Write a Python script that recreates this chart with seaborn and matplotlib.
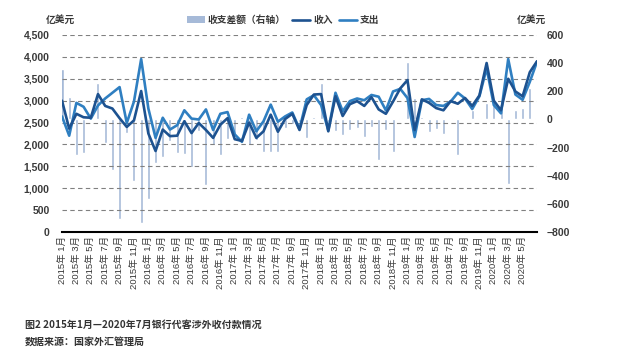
import numpy as np
import pandas as pd
import seaborn as sns
import matplotlib.pyplot as plt
from matplotlib.patches import Patch
from matplotlib.lines import Line2D
from matplotlib.ticker import FuncFormatter
from matplotlib.transforms import ScaledTranslation

# 2015年1月 - 2020年7月，亿美元
income = [3000, 2360, 2700, 2620, 2610, 3150, 2880, 2820, 2600, 2400, 2550, 3220,
          2250, 1850, 2340, 2190, 2200, 2530, 2260, 2490, 2330, 2150, 2450, 2600,
          2120, 2080, 2500, 2150, 2300, 2680, 2290, 2580, 2700, 2330, 2900, 3140,
          3150, 2300, 3100, 2650, 2920, 2990, 2880, 3080, 2800, 2700, 2980, 3280,
          3470, 2330, 3030, 2950, 2830, 2780, 2990, 2930, 3060, 2880, 3120, 3860,
          3000, 2780, 3500, 3210, 3100, 3650, 3900]
expense = [2640, 2200, 2950, 2860, 2590, 2890, 3050, 3180, 3310, 2490, 2980, 3950,
           2820, 2150, 2610, 2340, 2440, 2780, 2590, 2570, 2800, 2330, 2700, 2740,
           2230, 2060, 2680, 2300, 2530, 2910, 2520, 2640, 2730, 2350, 3030, 3125,
           2900, 2320, 3180, 2760, 2990, 3050, 3010, 3130, 3090, 2780, 3210, 3270,
           3060, 2170, 3010, 3040, 2900, 2880, 2980, 3180, 3050, 2810, 3100, 3740,
           2900, 2710, 3950, 3140, 3020, 3430, 3890]
balance = [358, 160, -253, -237, 20, 259, -170, -360, -708, -97, -435, -734,
           -568, -308, -267, -150, -242, -247, -336, -80, -466, -180, -253, -140,
           -110, 20, -182, -146, -230, -230, -230, -60, -30, -20, -134, 15,
           257, -20, -80, -110, -75, -63, -127, -52, -289, -75, -230, 10,
           410, 150, 20, -88, -71, -100, 10, -253, 5, 66, 10, 118,
           100, 66, -459, 66, 78, 222, 10]
tick_labels = ["2015年 1月", "2015年 3月", "2015年 5月", "2015年 7月", "2015年 9月", "2015年 11月",
               "2016年 1月", "2016年 3月", "2016年 5月", "2016年 7月", "2016年 9月", "2016年 11月",
               "2017年 1月", "2017年 3月", "2017年 5月", "2017年 7月", "2017年 9月", "2017年 11月",
               "2018年 1月", "2018年 3月", "2018年 5月", "2018年 7月", "2018年 9月", "2018年 11月",
               "2019年 1月", "2019年 3月", "2019年 5月", "2019年 7月", "2019年 9月", "2019年 11月",
               "2020年 1月", "2020年 3月", "2020年 5月"]

c_in = "#1d5290"
c_out = "#2f7fc1"
c_bar = "#a6bad8"
txt = "#3a3a3a"

sns.set_style("white")
plt.rcParams['font.family'] = ['Liberation Sans', 'Noto Sans CJK SC']

df = pd.DataFrame({"月": np.arange(len(income)), "收入": income,
                   "支出": expense, "收支差额": balance})

fig = plt.figure(figsize=(6.17, 3.57), dpi=100)
ax = fig.add_axes([62/617, 1-232/357, 475/617, 197/357])
ax2 = ax.twinx()

# bars on the right axis, drawn behind the lines
sns.barplot(data=df, x="月", y="收支差额", ax=ax2, native_scale=True, color=c_bar,
            saturation=1, width=0.42, errorbar=None)
sns.lineplot(data=df, x="月", y="支出", ax=ax, color=c_out, linewidth=1.9)
sns.lineplot(data=df, x="月", y="收入", ax=ax, color=c_in, linewidth=1.9)
ax.set_zorder(ax2.get_zorder() + 1)
ax.patch.set_visible(False)

ax.set_xlim(0, len(income) - 1)
ax.set_ylim(0, 4500)
ax2.set_ylim(-800, 600)
ax.set_yticks(np.arange(0, 4501, 500))
ax2.set_yticks(np.arange(-800, 601, 200))
ax.yaxis.set_major_formatter(FuncFormatter(lambda v, p: f"{v:,.0f}"))
ax2.yaxis.set_major_formatter(FuncFormatter(lambda v, p: f"{v:.0f}".replace("-", "−")))
ax.set_xticks(np.arange(len(tick_labels)) * 2)
ax.set_xticklabels(tick_labels, rotation=90, fontsize=6.8, color=txt)
for lab in ax.get_xticklabels():
    lab.set_transform(lab.get_transform() + ScaledTranslation(4/100, 0, fig.dpi_scale_trans))

ax.yaxis.grid(True, linestyle=(0, (4, 3)), color="#808080", linewidth=0.8)
ax.xaxis.grid(False)
for a in (ax, ax2):
    for s in a.spines.values():
        s.set_visible(False)
ax.spines["bottom"].set_visible(True)
ax.spines["bottom"].set_color("black")
ax.spines["bottom"].set_linewidth(1.5)

ax.tick_params(axis="y", length=0, pad=9, labelsize=7.5, labelcolor=txt)
ax2.tick_params(axis="y", length=0, pad=7, labelsize=7.5, labelcolor=txt)
ax.tick_params(axis="x", length=0, pad=3)
for lab in ax.get_yticklabels() + ax2.get_yticklabels():
    lab.set_fontweight("bold")
ax.set_xlabel("")
ax.set_ylabel("")
ax2.set_ylabel("")

fig.text(60/617, 1-20/357, "亿美元", ha="center", va="center", fontsize=7,
         color=txt, fontweight="bold")
fig.text(531/617, 1-20/357, "亿美元", ha="center", va="center", fontsize=7,
         color=txt, fontweight="bold")

handles = [Patch(facecolor=c_bar, edgecolor="none"),
           Line2D([], [], color=c_in, linewidth=1.9),
           Line2D([], [], color=c_out, linewidth=1.9)]
fig.legend(handles, ["收支差额（右轴）", "收入", "支出"], loc="center",
           bbox_to_anchor=(283/617, 1-20/357), ncol=3, frameon=False,
           prop={"size": 7, "weight": "bold"},
           handlelength=1.9, handleheight=0.6, handletextpad=0.3, columnspacing=0.6,
           labelcolor=txt)

fig.text(25/617, 1-325/357, "图2 2015年1月—2020年7月银行代客涉外收付款情况", ha="left",
         va="center", fontsize=7.2, color="#333333", fontweight="bold",
         family=["Noto Sans CJK SC"])
fig.text(25/617, 1-342/357, "数据来源：国家外汇管理局", ha="left", va="center",
         fontsize=7.2, color="#333333", fontweight="bold", family=["Noto Sans CJK SC"])

fig.savefig("out.png", dpi=100)
